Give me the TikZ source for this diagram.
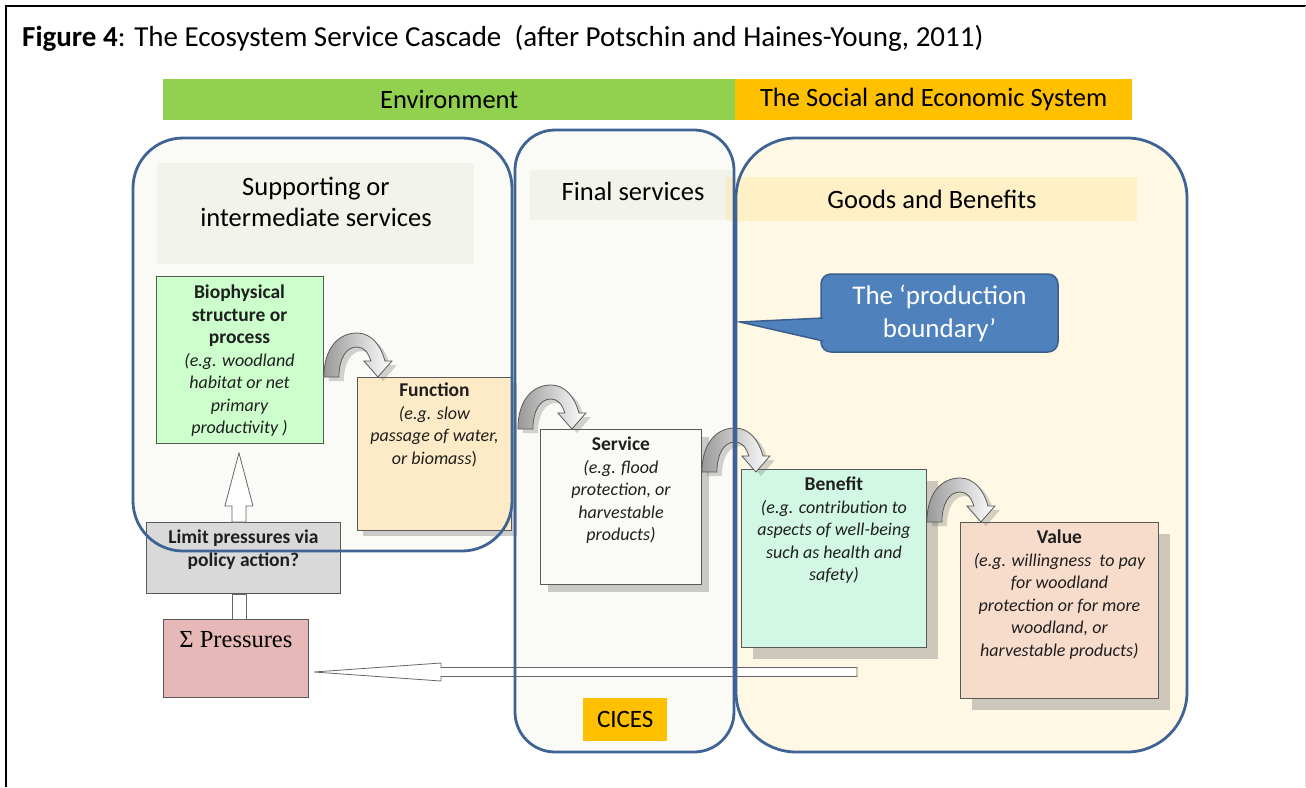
\documentclass[tikz,border=0pt]{standalone}
\usepackage{fontspec}
\setmainfont{Carlito}
\newfontfamily\tnr{Liberation Serif}
\usetikzlibrary{calc,shadows}
\definecolor{envgreen}{HTML}{92D050}
\definecolor{socorange}{HTML}{FFC000}
\definecolor{bord}{HTML}{3F6394}
\definecolor{lfill}{HTML}{FAFBF6}
\definecolor{lband}{HTML}{F2F3EA}
\definecolor{rfill}{HTML}{FFF8E4}
\definecolor{rband}{HTML}{FFE699}
\definecolor{cfill}{HTML}{4F81BD}
\definecolor{cbord}{HTML}{3A5F8C}
\definecolor{biofill}{HTML}{CCFFCC}
\definecolor{funfill}{HTML}{FCEBC6}
\definecolor{serfill}{HTML}{FAFAF6}
\definecolor{benfill}{HTML}{D2F8E5}
\definecolor{valfill}{HTML}{F8DCCB}
\definecolor{limfill}{HTML}{D9D9D9}
\definecolor{prefill}{HTML}{E6B9B8}
\newcommand{\bb}[1]{{\fontsize{19.5}{22.5}\selectfont\bfseries #1}}
\newcommand{\ii}[1]{{\fontsize{18}{22.5}\selectfont\itshape #1}}
\tikzset{
  bigtxt/.style={font=\fontsize{26.5}{31}\selectfont, align=center, inner sep=0pt},
  boxtxt/.style={font=\fontsize{18}{22.5}\selectfont, align=center, inner sep=0pt, anchor=north, text=black!88},
  ibox/.style={draw=black!65, line width=0.9pt, inner sep=0pt, anchor=north west},
  shad/.style={drop shadow={shadow xshift=#1pt, shadow yshift=-#1pt, fill=black!60, opacity=0.33}},
  bigbox/.style={draw=bord, line width=2.8pt},
  blockarrow/.style={fill=white, draw=black!60, line width=0.8pt},
  cascade/.pic={
    \fill[black!60, opacity=0.28, xshift=5pt, yshift=-4pt]
      (0,0) .. controls (0,-28) and (14,-44) .. (33,-44) .. controls (47,-44) and (57,-32) .. (61,-16)
      -- (68,-16) -- (54,0) -- (40,-16) -- (47,-16) .. controls (44,-25) and (40,-30) .. (33,-30)
      .. controls (22,-30) and (15,-18) .. (15,0) -- cycle;
    \shade[left color=black!40, right color=white, draw=black!65, line width=0.8pt]
      (0,0) .. controls (0,-28) and (14,-44) .. (33,-44) .. controls (47,-44) and (57,-32) .. (61,-16)
      -- (68,-16) -- (54,0) -- (40,-16) -- (47,-16) .. controls (44,-25) and (40,-30) .. (33,-30)
      .. controls (22,-30) and (15,-18) .. (15,0) -- cycle;
  }
}
\begin{document}
\begin{tikzpicture}[x=1pt,y=-1pt]
\useasboundingbox (0,0) rectangle (1306,787);
% frame
\draw[black, line width=2pt] (6,787) -- (6,6) -- (1306,6);
\draw[black!15, line width=1pt] (1305,6) -- (1305,787);
% title
\node[anchor=west, inner sep=0pt, font=\fontsize{29}{33}\selectfont] (title) at (22,38)
  {\textbf{Figure 4}: The Ecosystem Service Cascade\ \ (after Potschin and Haines-Young, 2011)};
% top bars
\node[fill=envgreen, minimum width=572pt, minimum height=41pt, inner sep=0pt, anchor=north west,
  font=\fontsize{26.5}{30}\selectfont] (env) at (163,79) {Environment};
\node[fill=socorange, minimum width=397pt, minimum height=41pt, inner sep=0pt, anchor=north west,
  font=\fontsize{26.5}{30}\selectfont] (soc) at (735,79) {The Social and Economic System};
% big box fills
\fill[lfill, rounded corners=50pt] (133,138) rectangle (512,551);
\fill[lfill, rounded corners=40pt] (515,130) rectangle (734,752);
\fill[rfill, rounded corners=60pt] (736,138) rectangle (1187,752);
% bands
\node[fill=lband, minimum width=317pt, minimum height=101pt, anchor=north west, inner sep=0pt] (supband) at (157,163) {};
\node[bigtxt] (suptxt) at (316,202) {Supporting or\\intermediate services};
\node[fill=lband, minimum width=202pt, minimum height=50pt, anchor=north west, inner sep=0pt] (finband) at (530,170) {};
\node[bigtxt] (fintxt) at (633,191) {Final services};
\node[fill=rband, fill opacity=0.4, text opacity=1, minimum width=411pt, minimum height=44pt, anchor=north west, inner sep=0pt] (goodband) at (726,177) {};
\node[bigtxt] (goodtxt) at (932,199) {Goods and Benefits};
% CICES
\node[fill=socorange, minimum width=84pt, minimum height=43pt, inner sep=0pt, anchor=north west,
  font=\fontsize{25}{28}\selectfont] (cices) at (583,698) {CICES};
% inner boxes
\node[ibox, fill=biofill, minimum width=167pt, minimum height=167pt] (bio) at (156,276) {};
\node[boxtxt, anchor=center] (biotxt) at (239.5,361)
  {\bb{Biophysical}\\\bb{structure or}\\\bb{process}\\\ii{(e.g. woodland}\\\ii{habitat or net}\\\ii{primary}\\\ii{productivity )}};
\node[ibox, fill=funfill, minimum width=154pt, minimum height=153pt, shad=6] (fun) at (357,377) {};
\node[boxtxt] (funtxt) at ($(fun.north)+(0,6)$)
  {\bb{Function}\\\ii{(e.g. slow}\\\ii{passage of water,}\\\ii{or biomass})};
\node[ibox, fill=serfill, minimum width=161pt, minimum height=155pt, shad=8] (ser) at (540,429) {};
\node[boxtxt] (sertxt) at ($(ser.north)+(0,8)$)
  {\bb{Service}\\\ii{(e.g. flood}\\\ii{protection, or}\\\ii{harvestable}\\\ii{products)}};
\node[ibox, fill=benfill, minimum width=185pt, minimum height=178pt, shad=12] (ben) at (741,469) {};
\node[boxtxt] (bentxt) at ($(ben.north)+(0,8)$)
  {\bb{Benefit}\\\ii{(e.g. contribution to}\\\ii{aspects of well-being}\\\ii{such as health and}\\\ii{safety)}};
\node[ibox, fill=valfill, minimum width=198pt, minimum height=176pt, shad=12] (val) at (960,522) {};
\node[boxtxt] (valtxt) at ($(val.north)+(0,8)$)
  {\bb{Value}\\\ii{(e.g. willingness\ \ to pay}\\\ii{for woodland}\\\ii{protection or for more}\\\ii{woodland, or}\\\ii{harvestable products)}};
\node[ibox, fill=limfill, minimum width=194pt, minimum height=71pt] (lim) at (146,522) {};
\node[boxtxt] (limtxt) at ($(lim.north)+(0,8)$)
  {\bb{Limit pressures via}\\\bb{policy action?}};
\node[ibox, fill=prefill, minimum width=145pt, minimum height=78pt] (pres) at (163,619) {};
\node[anchor=north, inner sep=0pt, font=\tnr\fontsize{24.5}{28}\selectfont] (prestxt) at ($(pres.north)+(0,12)$) {Σ Pressures};
% cascade arrows
\pic at (bio.east |- fun.north) {cascade};
\pic at ($(fun.east |- ser.north)+(6,0)$) {cascade};
\pic at ($(ser.east |- ben.north)+(0,3)$) {cascade};
\pic at (ben.east |- val.north) {cascade};
% up arrow from limit box to biophysical box
\coordinate (ut) at ($(bio.south)+(-1,9)$);
\coordinate (ub) at (ut |- lim.north);
\draw[blockarrow] ($(ub)+(-7,0)$) -- ($(ut)+(-7,53)$) -- ($(ut)+(-14,53)$) -- (ut)
  -- ($(ut)+(14,53)$) -- ($(ut)+(7,53)$) -- ($(ub)+(7,0)$) -- cycle;
% connector between pressures and limit box
\draw[blockarrow] ($(ut |- lim.south)+(-7,0)$) rectangle ($(ut |- pres.north)+(7,0)$);
% long arrow back to pressures
\coordinate (pstart) at (857,672);
\coordinate (ptip) at ($(pres.east |- pstart)+(5,0)$);
\draw[blockarrow] ($(pstart)+(0,-4.5)$) -- ($(ptip)+(127,-4.5)$) -- ($(ptip)+(127,-9)$) -- (ptip)
  -- ($(ptip)+(127,9)$) -- ($(ptip)+(127,4.5)$) -- ($(pstart)+(0,4.5)$) -- cycle;
% big box borders
\draw[bigbox, rounded corners=50pt] (133,138) rectangle (512,551);
\draw[bigbox, rounded corners=40pt] (515,130) rectangle (734,752);
\draw[bigbox, rounded corners=60pt] (736,138) rectangle (1187,752);
% callout
\node[fill=cfill, draw=cbord, line width=1.5pt, rounded corners=10pt, minimum width=237pt, minimum height=78pt,
  inner sep=0pt, text=white, align=center, font=\fontsize{27}{33}\selectfont] (pb) at (939.5,313)
  {The ‘production\\boundary’};
\draw[fill=cfill, draw=cbord, line width=1.5pt] ($(pb.west)+(3,5)$) -- (740,322) -- ($(pb.west)+(3,28)$);
\fill[cfill] ($(pb.west)+(-1.5,6)$) rectangle ($(pb.west)+(4,27)$);
\end{tikzpicture}
\end{document}
